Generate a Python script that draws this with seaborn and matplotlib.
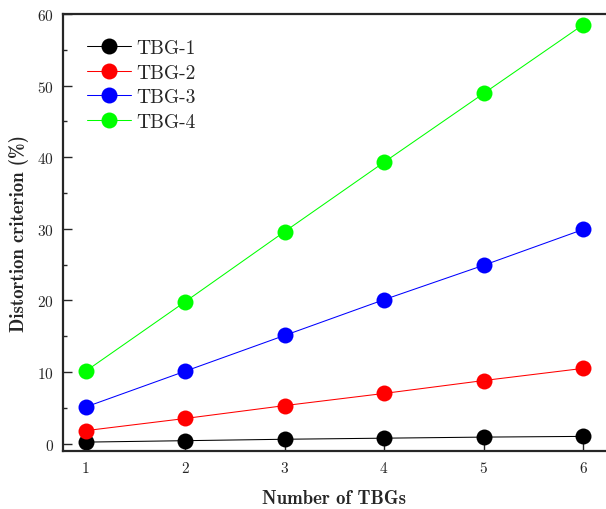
"""Distortion criterion vs number of TBGs."""

import matplotlib

matplotlib.use("Agg")
import matplotlib.pyplot as plt
import pandas as pd
import seaborn as sns
from matplotlib.ticker import MultipleLocator

n_tbgs = [1, 2, 3, 4, 5, 6]
tbg1 = [0.2, 0.4, 0.6, 0.75, 0.9, 1.0]
tbg2 = [1.8, 3.5, 5.3, 7.0, 8.8, 10.5]
tbg3 = [5.1, 10.1, 15.1, 20.1, 24.9, 29.9]
tbg4 = [10.1, 19.8, 29.6, 39.3, 48.9, 58.5]
series_names = ["TBG-1", "TBG-2", "TBG-3", "TBG-4"]
series_colors = ["#000000", "#ff0000", "#0000ff", "#00ff00"]

df = pd.DataFrame(
    {
        "n": n_tbgs * 4,
        "value": tbg1 + tbg2 + tbg3 + tbg4,
        "series": [s for s in series_names for _ in n_tbgs],
    }
)

sns.set_style("ticks")
plt.rcParams["font.family"] = ["cmr10", "DejaVu Serif"]
plt.rcParams["axes.formatter.use_mathtext"] = True

fig = plt.figure(figsize=(6.06, 5.10), dpi=100)
ax = fig.add_axes([0.1035, 0.1143, 0.8965, 0.8563])

sns.lineplot(
    data=df,
    x="n",
    y="value",
    hue="series",
    hue_order=series_names,
    palette=dict(zip(series_names, series_colors)),
    marker="o",
    markersize=11.5,
    markeredgewidth=0,
    linewidth=0.75,
    ax=ax,
)

ax.set_xlim(0.77, 6.23)
ax.set_ylim(-1, 60)
ax.set_xticks(n_tbgs)
ax.yaxis.set_major_locator(MultipleLocator(10))
ax.yaxis.set_minor_locator(MultipleLocator(5))
ax.tick_params(axis="both", which="major", direction="in", length=6.5, width=1,
               labelsize=11, pad=6.5)
ax.tick_params(axis="y", which="minor", direction="in", length=3, width=1)
ax.tick_params(top=False, right=False)
ax.spines["right"].set_visible(False)
for side in ("left", "bottom", "top"):
    ax.spines[side].set_linewidth(1.6)

ax.set_xlabel("Number of TBGs", family=["cmb10", "DejaVu Serif"], fontsize=13.5, labelpad=10)
ax.set_ylabel("Distortion criterion (%)", family=["cmb10", "DejaVu Serif"], fontsize=13.5, labelpad=6)

ax.legend(
    loc="upper left",
    bbox_to_anchor=(0.012, 0.983),
    frameon=False,
    fontsize=14,
    handlelength=2.3,
    handletextpad=0.25,
    labelspacing=0.35,
)

fig.savefig("out.png", dpi=100)
plt.close(fig)
